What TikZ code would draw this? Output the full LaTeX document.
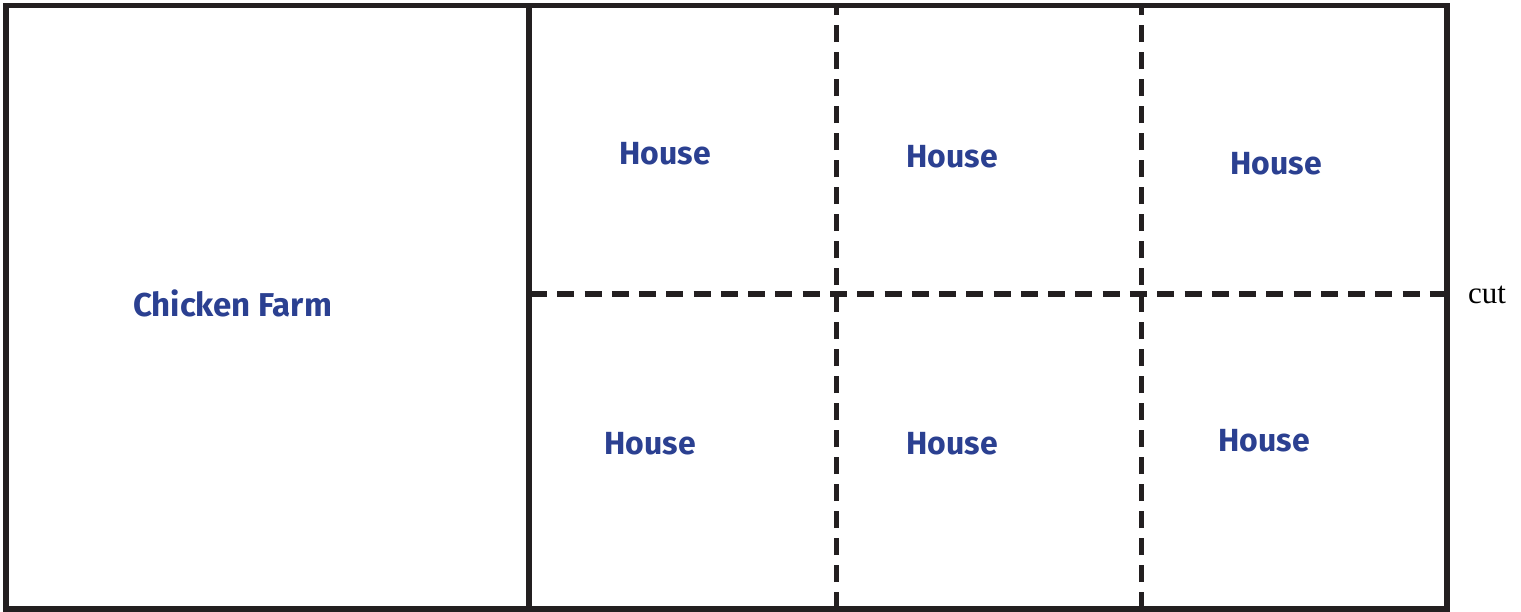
\documentclass[tikz,border=0pt]{standalone}
\usepackage{fontspec}
\setmainfont{Liberation Serif}
\newfontfamily\labelfont{Fira Sans}[UprightFont=* Bold]
\definecolor{labelblue}{RGB}{43,64,145}
\definecolor{linegray}{RGB}{35,31,32}
\begin{document}
\begin{tikzpicture}[x=0.5pt,y=-0.5pt,
  solidline/.style={draw=linegray,line width=2.6pt},
  cutline/.style={draw=linegray,line width=2.6pt,dash pattern=on 8.5pt off 5.136pt},
  lbl/.style={text=labelblue,font=\labelfont\fontsize{16}{19}\selectfont,inner sep=0pt},
  bigLbl/.style={lbl,font=\labelfont\fontsize{16.5}{19}\selectfont},
  cutlbl/.style={font=\fontsize{15.5}{18}\selectfont,inner sep=0pt,anchor=base}]
\useasboundingbox (0,0) rectangle (1521,611);
\coordinate (tl) at (6,5.5);
\coordinate (br) at (1447,609);
\coordinate (mt) at (529,5.5);
\coordinate (mb) at (529,609);
\coordinate (d1t) at (836.5,5.5);
\coordinate (d1b) at (836.5,609);
\coordinate (d2t) at (1141.5,5.5);
\coordinate (d2b) at (1141.5,609);
\coordinate (hl) at (530,294);
\coordinate (hr) at (1447,294);
\draw[cutline,dash pattern=on 8.5pt off 5pt] (d1b) -- (d1t);
\draw[cutline,dash pattern=on 8.5pt off 5pt] (d2b) -- (d2t);
\draw[cutline] (hl) -- (hr);
\draw[solidline] (tl) rectangle (br);
\draw[solidline] (mt) -- (mb);
\node[bigLbl] (farm) at (232.5,303) {Chicken Farm};
\node[lbl] (h1) at (665,154) {House};
\node[lbl] (h2) at (952,157) {House};
\node[lbl] (h3) at (1276,164) {House};
\node[lbl] (h4) at (650,444) {House};
\node[lbl] (h5) at (952,444) {House};
\node[lbl] (h6) at (1264,441) {House};
\node[cutlbl] (cut) at (1487,303) {cut};
\end{tikzpicture}
\end{document}
